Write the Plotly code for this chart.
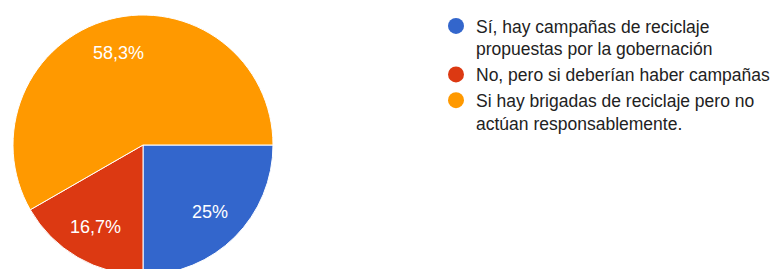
import plotly.graph_objects as go

labels = [
    "Sí, hay campañas de reciclaje<br>propuestas por la gobernación",
    "No, pero si deberían haber campañas",
    "Si hay brigadas de reciclaje pero no<br>actúan responsablemente.",
]
values = [25, 16.7, 58.3]
value_text = ["25%", "16,7%", "58,3%"]
colors = ["#3366CC", "#DC3912", "#FF9900"]

W, H = 770, 276
pie_domain = dict(x=[13 / W, 273 / W], y=[1 / H, 261 / H])
FONT = "Liberation Sans, Arial"

fig = go.Figure()
# full pie with slice borders
fig.add_trace(go.Pie(
    labels=labels, values=values, textinfo="none",
    marker=dict(colors=colors, line=dict(color="white", width=1)),
    sort=False, direction="clockwise", rotation=90,
    showlegend=False, hoverinfo="label+percent", domain=pie_domain,
))
# transparent ring on top that only carries the percentage labels
fig.add_trace(go.Pie(
    labels=labels, values=values, text=value_text, textinfo="text",
    textposition="inside", insidetextorientation="horizontal",
    textfont=dict(color="white", size=18, family=FONT),
    marker=dict(colors=["rgba(0,0,0,0)"] * len(values), line=dict(width=0)),
    hole=0.46, sort=False, direction="clockwise", rotation=90,
    showlegend=False, hoverinfo="skip", domain=pie_domain,
))

for lab, col in zip(labels, colors):
    fig.add_trace(go.Scatter(
        x=[None], y=[None], mode="markers", name=lab,
        marker=dict(symbol="circle", size=17, color=col),
        showlegend=True, hoverinfo="skip",
    ))

fig.update_layout(
    width=W, height=H,
    margin=dict(l=0, r=0, t=0, b=0, autoexpand=False),
    paper_bgcolor="white", plot_bgcolor="white",
    xaxis=dict(visible=False), yaxis=dict(visible=False),
    font=dict(family=FONT, size=17.5, color="#222222"),
    legend=dict(
        x=436 / W, y=1 - 8 / H, xanchor="left", yanchor="top",
        valign="top", tracegroupgap=5, itemclick=False,
        font=dict(family=FONT, size=17.5, color="#222222"),
    ),
)

fig.write_html(
    "out.html",
    config={"displayModeBar": False},
    post_script="document.body.style.margin='0';document.body.style.overflow='hidden';",
)
